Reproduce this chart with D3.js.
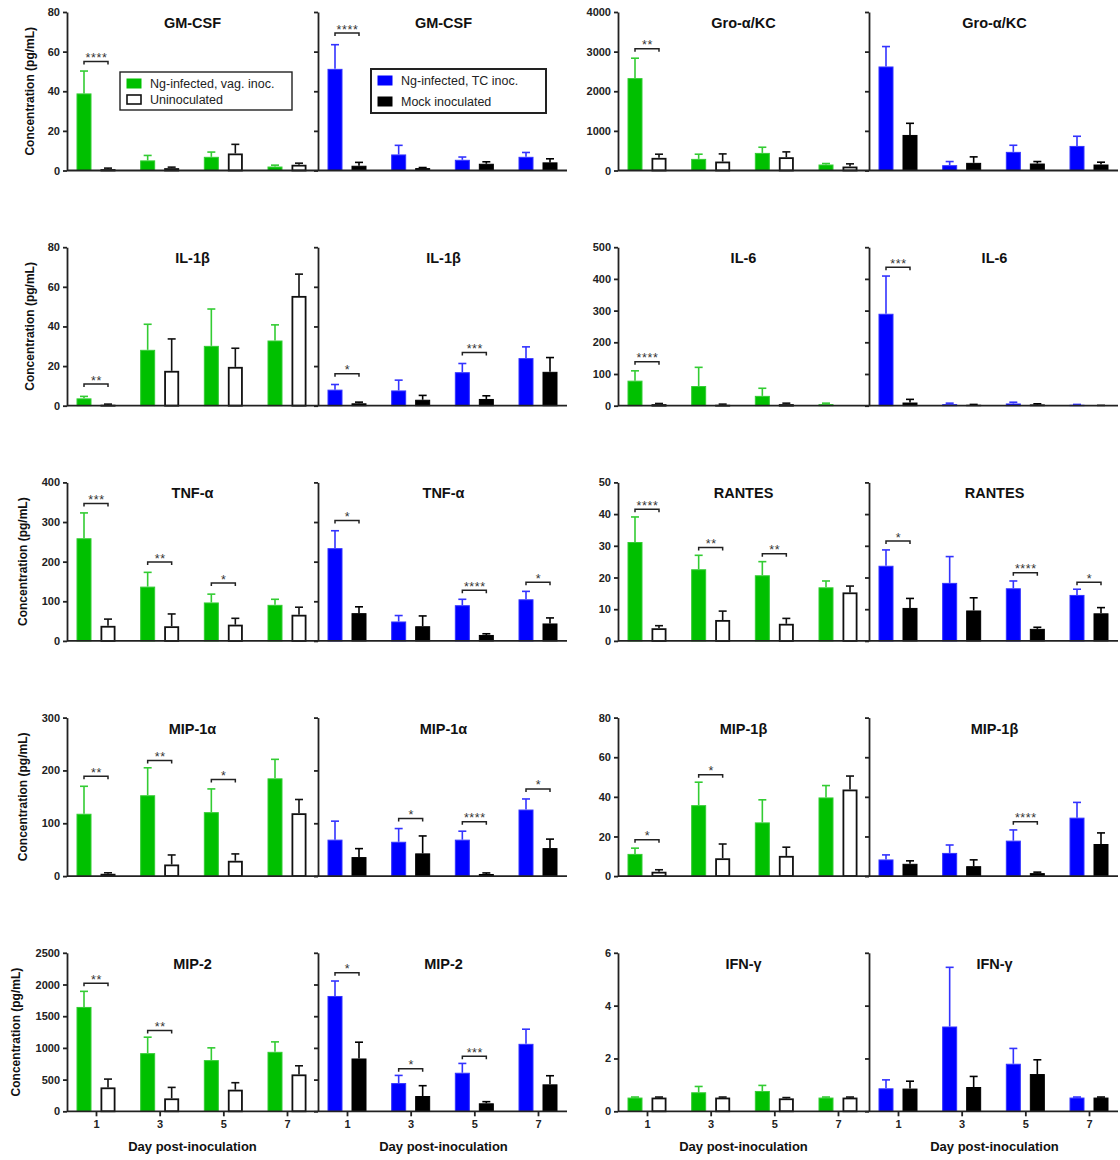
<!DOCTYPE html>
<html>
<head>
<meta charset="utf-8">
<script src="https://cdn.jsdelivr.net/npm/d3@7"></script>
<style>
  body { margin: 0; background: #fff; }
  svg text { font-family: Arial, "Liberation Sans", Helvetica, sans-serif; }
</style>
</head>
<body>
<svg id="chart" width="1120" height="1160"></svg>
<script>
// data (mean and SEM), order of panels is row by row
const days = [1, 3, 5, 7];
const cytokines = ["GM-CSF", "Gro-\u03b1/KC", "IL-1\u03b2", "IL-6", "TNF-\u03b1", "RANTES", "MIP-1\u03b1", "MIP-1\u03b2", "MIP-2", "IFN-\u03b3"];
const yMax = [80, 4000, 80, 500, 400, 50, 300, 80, 2500, 6];
const yStep = [20, 1000, 20, 100, 100, 10, 100, 20, 500, 2];

const seriesNames = ["Ng-infected, vag. inoc.", "Uninoculated", "Ng-infected, TC inoc.", "Mock inoculated"];

const vagMean = [
  [38.9, 5.1, 6.9, 2.0], [2331, 293, 444, 151], [3.7, 28.2, 30.2, 32.9], [79, 62, 31, 5], [259, 137, 97, 91],
  [31.2, 22.6, 20.7, 16.9], [118, 153, 121, 185], [11.2, 35.8, 27.1, 39.7], [1646, 917, 807, 938], [0.52, 0.72, 0.77, 0.52]
];
const vagSem = [
  [11.3, 2.5, 2.4, 0.7], [503, 118, 143, 25], [1.0, 12.9, 18.6, 7.9], [31, 59, 24, 3], [64, 36, 21, 14],
  [7.9, 4.4, 4.3, 2.0], [52, 52, 44, 36], [2.9, 11.6, 11.4, 6.0], [246, 252, 194, 157], [0.02, 0.22, 0.21, 0.02]
];
const uninocMean = [
  [0.7, 1.2, 8.6, 2.9], [319, 226, 335, 100], [0.5, 17.6, 19.6, 55.4], [5, 3, 5, 0], [38, 37, 41, 66],
  [4.0, 6.6, 5.4, 15.3], [4.4, 22, 29, 119], [2.2, 9.0, 10.2, 43.7], [377, 204, 341, 582], [0.52, 0.52, 0.49, 0.52]
];
const uninocSem = [
  [0.5, 0.5, 4.6, 0.8], [92, 193, 135, 68], [0.3, 16.1, 9.4, 11.0], [2, 2, 3, 0], [17, 31, 16, 19],
  [0.8, 2.8, 1.7, 2.0], [1.9, 18, 13, 26], [1.0, 7.2, 4.4, 6.8], [131, 173, 110, 136], [0.02, 0.02, 0.03, 0.02]
];
const tcMean = [
  [51.3, 8.1, 5.4, 6.9], [2625, 134, 470, 620], [8.1, 7.7, 16.9, 24.0], [290, 5, 7, 3], [234, 49, 90, 105],
  [23.7, 18.3, 16.6, 14.5], [69, 65, 69, 126], [8.4, 11.7, 17.9, 29.5], [1819, 445, 608, 1064], [0.87, 3.21, 1.80, 0.52]
];
const tcSem = [
  [12.2, 4.6, 1.4, 2.2], [503, 92, 167, 244], [2.6, 5.2, 4.4, 5.7], [119, 3, 4, 1], [44, 15, 15, 20],
  [5.0, 8.3, 2.3, 1.8], [35, 25, 16, 20], [2.3, 4.0, 5.4, 7.7], [236, 121, 147, 231], [0.32, 2.24, 0.58, 0.02]
];
const mockMean = [
  [2.4, 1.2, 3.4, 4.1], [897, 193, 176, 151], [1.2, 3.0, 3.4, 17.1], [10, 3, 4, 0.5], [70, 37, 15, 44],
  [10.4, 9.6, 3.8, 8.7], [36, 43, 4, 53], [6.2, 5.0, 1.5, 16.2], [833, 241, 126, 425], [0.86, 0.92, 1.41, 0.52]
];
const mockSem = [
  [1.7, 0.3, 1.0, 1.8], [294, 151, 50, 59], [0.6, 2.2, 1.6, 7.2], [10, 1, 2, 0.5], [16, 26, 3, 14],
  [3.0, 4.0, 0.5, 1.8], [16, 33, 2, 17], [1.5, 3.2, 0.5, 5.6], [257, 163, 26, 136], [0.28, 0.40, 0.54, 0.02]
];

// significance brackets: [day, stars, bracket height in pg/mL]
const sigVag = [
  [[1, "****", 55]], [[1, "**", 3070]], [[1, "**", 10.9]], [[1, "****", 139]],
  [[1, "***", 347], [3, "**", 199], [5, "*", 146]],
  [[1, "****", 41.5], [3, "**", 29.5], [5, "**", 27.5]],
  [[1, "**", 189], [3, "**", 219], [5, "*", 183]],
  [[1, "*", 18.4], [3, "*", 51.2]],
  [[1, "**", 2018], [3, "**", 1274]], []
];
const sigTc = [
  [[1, "****", 69.4]], [], [[1, "*", 16.1], [5, "***", 26.8]], [[1, "***", 437]],
  [[1, "*", 304], [5, "****", 128], [7, "*", 148]],
  [[1, "*", 31.5], [5, "****", 21.5], [7, "*", 18.5]],
  [[3, "*", 109], [5, "****", 103], [7, "*", 165]],
  [[5, "****", 27.4]],
  [[1, "*", 2186], [3, "*", 671], [5, "***", 870]], []
];

const svg = d3.select("#chart");
svg.append("rect").attr("width", 1120).attr("height", 1160).attr("fill", "#fff");

const axisColor = "#222";
const green = "#00c000", greenLine = "#33cc33";
const blue = "#0000ff", blueLine = "#3333ff";
const barW = 15, gap = 4.5;
const panelW = 251;
const rowStep = 235.2, plotH = 158.5;

const styles = {
  vag:    { fill: green, stroke: greenLine, sw: 1, err: greenLine },
  uninoc: { fill: "#fff", stroke: "#111", sw: 1.8, err: "#111" },
  tc:     { fill: blue, stroke: blueLine, sw: 1, err: blueLine },
  mock:   { fill: "#000", stroke: "#000", sw: 1, err: "#000" }
};

function drawBars(g, x, y, mean, sem, side, st) {
  days.forEach((d, j) => {
    const x1 = side < 0 ? x(d) - gap - barW : x(d) + gap;
    const cx = x1 + barW / 2;
    const yt = y(mean[j]);
    const ye = y(mean[j] + sem[j]);
    const base = y(0);
    if (sem[j] > 0) {
      g.append("line").attr("x1", cx).attr("x2", cx).attr("y1", yt).attr("y2", ye)
        .attr("stroke", st.err).attr("stroke-width", 1.6);
      g.append("line").attr("x1", cx - 4).attr("x2", cx + 4).attr("y1", ye).attr("y2", ye)
        .attr("stroke", st.err).attr("stroke-width", 1.6);
    }
    if (mean[j] > 0) {
      const inset = st.sw / 2;
      g.append("rect")
        .attr("x", x1 + inset).attr("width", barW - 2 * inset)
        .attr("y", yt + inset).attr("height", Math.max(0, base - yt - inset))
        .attr("fill", st.fill).attr("stroke", st.stroke).attr("stroke-width", st.sw);
    }
  });
}

function drawSig(g, x, y, sigs) {
  sigs.forEach(([d, stars, v]) => {
    const xa = x(d) - gap - barW / 2, xb = x(d) + gap + barW / 2;
    const yb = y(v);
    g.append("path")
      .attr("d", `M${xa},${yb + 3}V${yb}H${xb}V${yb + 3}`)
      .attr("fill", "none").attr("stroke", axisColor).attr("stroke-width", 1.5);
    g.append("text").attr("x", (xa + xb) / 2 + 0.5).attr("y", yb + 0.5)
      .attr("text-anchor", "middle").attr("font-size", 12.5).attr("letter-spacing", 0.6)
      .attr("fill", "#333")
      .text(stars);
  });
}

cytokines.forEach((name, i) => {
  const row = Math.floor(i / 2), pair = i % 2;
  const axisX = pair === 0 ? 67 : 618;
  const top = 12 + row * rowStep, base = top + plotH;
  const y = d3.scaleLinear().domain([0, yMax[i]]).range([base, top]);
  const ticks = d3.range(0, yMax[i] + yStep[i] / 2, yStep[i]);
  const g = svg.append("g");

  const subs = [
    { x0: axisX, a: [vagMean[i], vagSem[i], styles.vag], b: [uninocMean[i], uninocSem[i], styles.uninoc], sig: sigVag[i] },
    { x0: axisX + panelW, a: [tcMean[i], tcSem[i], styles.tc], b: [mockMean[i], mockSem[i], styles.mock], sig: sigTc[i] }
  ];

  subs.forEach((s, k) => {
    const x = d3.scalePoint().domain(days).range([s.x0 + 29, s.x0 + 220]);
    drawBars(g, x, y, s.a[0], s.a[1], -1, s.a[2]);
    drawBars(g, x, y, s.b[0], s.b[1], 1, s.b[2]);
    drawSig(g, x, y, s.sig);

    // y axis (labels only on the first one of the pair)
    const ax = g.append("g").attr("transform", `translate(${s.x0},0)`)
      .call(d3.axisLeft(y).tickValues(ticks).tickSize(4).tickSizeOuter(0).tickPadding(3)
        .tickFormat(k === 0 ? d3.format("d") : ""));
    ax.selectAll("path, line").attr("stroke", axisColor).attr("stroke-width", 1.8);
    ax.selectAll("text").attr("font-size", 11).attr("font-weight", "bold").attr("fill", axisColor)
      .style("font-family", "Arial, 'Liberation Sans', sans-serif");

    g.append("text").attr("x", s.x0 + panelW / 2).attr("y", top + 16)
      .attr("text-anchor", "middle").attr("font-size", 14.5).attr("font-weight", "bold").attr("fill", "#111")
      .text(name);

    if (row === 4) {
      const xa = g.append("g").attr("transform", `translate(0,${base})`)
        .call(d3.axisBottom(x).tickSize(5).tickSizeOuter(0).tickPadding(4));
      xa.select(".domain").remove();
      xa.selectAll("line").attr("stroke", axisColor).attr("stroke-width", 1.8);
      xa.selectAll("text").attr("font-size", 11).attr("font-weight", "bold").attr("fill", axisColor)
        .style("font-family", "Arial, 'Liberation Sans', sans-serif");
      g.append("text").attr("x", s.x0 + panelW / 2).attr("y", base + 40)
        .attr("text-anchor", "middle").attr("font-size", 13).attr("font-weight", "bold").attr("fill", "#111")
        .text("Day post-inoculation");
    }
  });

  // shared baseline of the pair
  g.append("line").attr("x1", axisX).attr("x2", axisX + 500).attr("y1", base).attr("y2", base)
    .attr("stroke", axisColor).attr("stroke-width", 1.8);

  if (pair === 0) {
    // title sits just left of the widest tick label
    const digits = String(yMax[i]).length;
    g.append("text")
      .attr("transform", `translate(${34 - 7 * (digits - 2)},${(top + base) / 2}) rotate(-90)`)
      .attr("text-anchor", "middle").attr("font-size", 12).attr("font-weight", "bold").attr("fill", "#111")
      .text("Concentration (pg/mL)");
  }
});

// legends (top-left pair only)
function legend(x, y, w, h, items, bw, step) {
  const lg = svg.append("g").attr("transform", `translate(${x},${y})`);
  lg.append("rect").attr("width", w).attr("height", h).attr("fill", "#fff")
    .attr("stroke", "#222").attr("stroke-width", bw);
  items.forEach((it, k) => {
    lg.append("rect").attr("x", 7).attr("y", 7 + k * step).attr("width", 14).attr("height", 9)
      .attr("fill", it.st.fill).attr("stroke", it.st.fill === "#fff" ? "#111" : it.st.fill)
      .attr("stroke-width", it.st.fill === "#fff" ? 1.6 : 1);
    lg.append("text").attr("x", 30).attr("y", 16 + k * step)
      .attr("font-size", 12.5).attr("fill", "#222").text(it.name);
  });
}
legend(120, 72, 172, 38, [{ name: seriesNames[0], st: styles.vag }, { name: seriesNames[1], st: styles.uninoc }], 1.4, 16);
legend(371, 69, 175, 44, [{ name: seriesNames[2], st: styles.tc }, { name: seriesNames[3], st: styles.mock }], 2, 21);
</script>
</body>
</html>
